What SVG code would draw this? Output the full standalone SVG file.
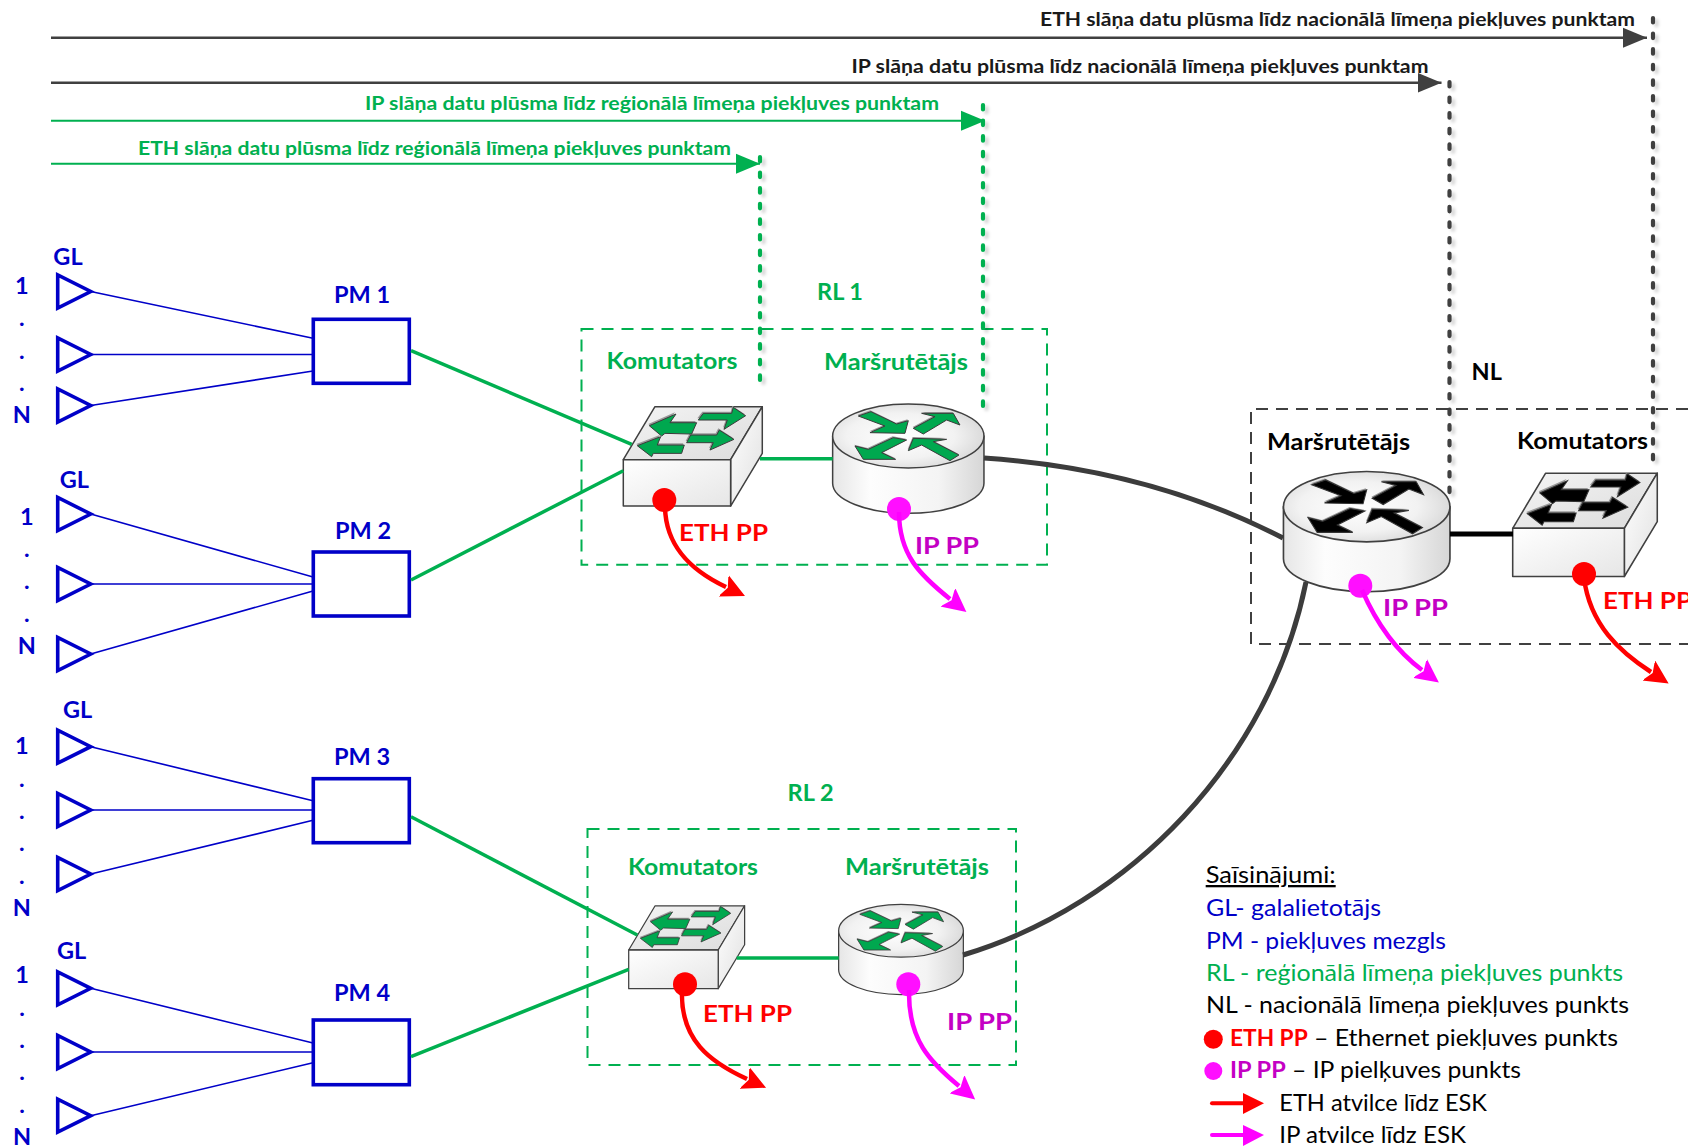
<svg xmlns="http://www.w3.org/2000/svg" xmlns:xlink="http://www.w3.org/1999/xlink" width="1688" height="1148" viewBox="0 0 1688 1148">
<style>
text{font-family:Lato,"Noto Sans","Liberation Sans",sans-serif}
.b{font-weight:700}
.lab{font-size:23.5px;font-weight:700}
.top{font-size:19.6px;font-weight:700}
.leg{font-size:23px}
.m{text-anchor:middle}
.blue{fill:#0000c8}.green{fill:#00b050}.red{fill:#ff0000}.pur{fill:#c400c4}.blk{fill:#000}.dark{fill:#1a1a1a}
.pm{fill:#fff;stroke:#0000c8;stroke-width:3.6}
.tri{fill:#fff;stroke:#0000c8;stroke-width:3.6;stroke-linejoin:miter}
.thin{fill:none;stroke:#0000c8;stroke-width:1.6}
.gl{fill:none;stroke:#00b050;stroke-width:3.5}
.gt{fill:none;stroke:#00b050;stroke-width:2}
.dt{fill:none;stroke:#404040;stroke-width:2.4}
.core{fill:none;stroke:#3c3c3c;stroke-width:5}
.dotG{fill:none;stroke:#00b050;stroke-width:4.2;stroke-linecap:round;stroke-dasharray:4.5 11.1;filter:url(#sh)}
.dotD{fill:none;stroke:#404040;stroke-width:4.2;stroke-linecap:round;stroke-dasharray:4.5 11.1;filter:url(#sh)}
.regG{fill:none;stroke:#00b050;stroke-width:2;stroke-dasharray:12 8}
.regD{fill:none;stroke:#404040;stroke-width:2;stroke-dasharray:12 8}
.rA{fill:none;stroke:#ff0000;stroke-width:4.5;marker-end:url(#hr)}
.mA{fill:none;stroke:#ff00ff;stroke-width:4.5;marker-end:url(#hm)}
.edge{stroke:#404040;stroke-width:4.5;stroke-linejoin:round}
</style>
<defs>
<filter id="sh" filterUnits="userSpaceOnUse" x="0" y="0" width="1688" height="1148"><feDropShadow dx="3.500" dy="3" stdDeviation="1.500" flood-color="#000" flood-opacity="0.16"/></filter>
<linearGradient id="gTop" x1="0" y1="0" x2="1" y2="1"><stop offset="0" stop-color="#f4f4f4"/><stop offset="1" stop-color="#dcdcdc"/></linearGradient>
<linearGradient id="gFront" x1="0" y1="0" x2="1" y2="1"><stop offset="0" stop-color="#ffffff"/><stop offset="1" stop-color="#e6e6e6"/></linearGradient>
<linearGradient id="gSide" x1="0" y1="0" x2="1" y2="1"><stop offset="0" stop-color="#ffffff"/><stop offset="1" stop-color="#e0e0e0"/></linearGradient>
<radialGradient id="gDisc" cx="0.45" cy="0.5" r="0.65"><stop offset="0" stop-color="#ffffff"/><stop offset="0.55" stop-color="#f2f2f2"/><stop offset="1" stop-color="#cfcfcf"/></radialGradient>
<linearGradient id="gBody" x1="0" y1="0" x2="1" y2="0"><stop offset="0" stop-color="#e6e6e6"/><stop offset="0.25" stop-color="#fdfdfd"/><stop offset="0.7" stop-color="#f4f4f4"/><stop offset="1" stop-color="#d6d6d6"/></linearGradient>
<marker id="hr" markerUnits="userSpaceOnUse" markerWidth="30" markerHeight="30" refX="2" refY="13" orient="auto"><path d="M-1,1 L23,13 L-1,25 L4,13 Z" fill="#ff0000"/></marker>
<marker id="hm" markerUnits="userSpaceOnUse" markerWidth="30" markerHeight="30" refX="2" refY="13" orient="auto"><path d="M-1,1 L23,13 L-1,25 L4,13 Z" fill="#ff00ff"/></marker>
<marker id="hd" markerUnits="userSpaceOnUse" markerWidth="30" markerHeight="24" refX="24" refY="11" orient="auto"><path d="M0,1 L24,11 L0,21 Z" fill="#404040"/></marker>
<marker id="hg" markerUnits="userSpaceOnUse" markerWidth="30" markerHeight="24" refX="24" refY="11" orient="auto"><path d="M0,1 L24,11 L0,21 Z" fill="#00b050"/></marker>
<g id="swArrows">
<polygon points="268,347 348,312 330,338 410,338 395,372 315,370 305,378"/>
<polygon points="415,330 430,310 515,310 520,292 557,317 492,358 502,330"/>
<polygon points="232,407 302,380 292,405 373,405 365,430 280,430 275,440"/>
<polygon points="380,398 392,375 470,375 478,360 522,388 450,420 460,398"/>
</g>
<g id="rtArrows">
<polygon points="895,318 933,305 1010,342 1045,332 1035,370 930,368 975,348"/>
<polygon points="1060,355 1125,320 1085,310 1180,310 1200,345 1160,330 1090,372"/>
<polygon points="1040,390 965,428 1007,448 910,448 885,408 925,418 1000,383"/>
<polygon points="1045,422 1060,385 1160,388 1120,395 1197,435 1170,452 1085,405"/>
</g>
<g id="swBody" class="edge">
<polygon points="190,449 285,290 607,290 512,449" fill="url(#gTop)"/>
<polygon points="512,449 607,290 607,430 512,588" fill="url(#gSide)"/>
<rect x="190" y="449" width="322" height="139" fill="url(#gFront)"/>
</g>
<g id="rtBody" class="edge">
<path d="M818,378 V520 A227,90 0 0 0 1272,520 V378 Z" fill="url(#gBody)"/>
<ellipse cx="1045" cy="378" rx="227" ry="96" fill="url(#gDisc)"/>
</g>
</defs>
<rect width="1688" height="1148" fill="#fff"/>

<g id="region-rl1"><rect class="regG" x="581.500" y="329" width="465.500" height="235.700"/><text class="lab m green" x="840" y="300">RL 1</text></g>
<g id="region-rl2"><rect class="regG" x="587.500" y="829" width="428.500" height="236"/><text class="lab m green" x="810.600" y="800.500">RL 2</text></g>
<g id="region-nl"><path class="regD" d="M1688,409 H1251 V644 H1688"/><text class="lab m blk" x="1486.700" y="379.500">NL</text></g>

<g id="group-pm1">
<text class="lab m blue" x="68" y="264.500">GL</text>
<text class="lab m blue" x="21.700" y="294">1</text>
<text class="lab m blue" x="21.700" y="326">.</text><text class="lab m blue" x="21.700" y="359">.</text><text class="lab m blue" x="21.700" y="391">.</text>
<text class="lab m blue" x="21.700" y="423">N</text>
</g>
<g id="gl-1-1"><polygon class="tri" points="57.700,275 57.700,308 90.700,291.500"/></g>
<g id="gl-1-2"><polygon class="tri" points="57.700,338 57.700,371 90.700,354.500"/></g>
<g id="gl-1-3"><polygon class="tri" points="57.700,389 57.700,422 90.700,405.500"/></g>
<g id="pm1"><rect class="pm" x="313.300" y="319.300" width="96" height="64"/><text class="lab m blue" x="362" y="303">PM 1</text></g>

<g id="group-pm2">
<text class="lab m blue" x="74.300" y="488">GL</text>
<text class="lab m blue" x="26.700" y="525">1</text>
<text class="lab m blue" x="26.700" y="557">.</text><text class="lab m blue" x="26.700" y="589">.</text><text class="lab m blue" x="26.700" y="622">.</text>
<text class="lab m blue" x="26.700" y="654">N</text>
</g>
<g id="gl-2-1"><polygon class="tri" points="57.700,497.500 57.700,530.500 90.700,514"/></g>
<g id="gl-2-2"><polygon class="tri" points="57.700,567.500 57.700,600.500 90.700,584"/></g>
<g id="gl-2-3"><polygon class="tri" points="57.700,637.500 57.700,670.500 90.700,654"/></g>
<g id="pm2"><rect class="pm" x="313.300" y="552" width="96" height="64"/><text class="lab m blue" x="363" y="539">PM 2</text></g>

<g id="group-pm3">
<text class="lab m blue" x="77.700" y="718">GL</text>
<text class="lab m blue" x="21.700" y="754">1</text>
<text class="lab m blue" x="21.700" y="787">.</text><text class="lab m blue" x="21.700" y="819">.</text><text class="lab m blue" x="21.700" y="851">.</text><text class="lab m blue" x="21.700" y="883.500">.</text>
<text class="lab m blue" x="21.700" y="916">N</text>
</g>
<g id="gl-3-1"><polygon class="tri" points="57.700,730.200 57.700,763.200 90.700,746.700"/></g>
<g id="gl-3-2"><polygon class="tri" points="57.700,793.500 57.700,826.500 90.700,810"/></g>
<g id="gl-3-3"><polygon class="tri" points="57.700,857.500 57.700,890.500 90.700,874"/></g>
<g id="pm3"><rect class="pm" x="313.300" y="778.700" width="96" height="64"/><text class="lab m blue" x="362" y="765">PM 3</text></g>

<g id="group-pm4">
<text class="lab m blue" x="71.700" y="959">GL</text>
<text class="lab m blue" x="22" y="983">1</text>
<text class="lab m blue" x="22" y="1015.500">.</text><text class="lab m blue" x="22" y="1047.500">.</text><text class="lab m blue" x="22" y="1079.500">.</text><text class="lab m blue" x="22" y="1112.500">.</text>
<text class="lab m blue" x="22" y="1145">N</text>
</g>
<g id="gl-4-1"><polygon class="tri" points="57.700,971.800 57.700,1004.800 90.700,988.300"/></g>
<g id="gl-4-2"><polygon class="tri" points="57.700,1035.500 57.700,1068.500 90.700,1052"/></g>
<g id="gl-4-3"><polygon class="tri" points="57.700,1099.200 57.700,1132.200 90.700,1115.700"/></g>
<g id="pm4"><rect class="pm" x="313.300" y="1020" width="96" height="64.700"/><text class="lab m blue" x="362" y="1001">PM 4</text></g>

<g id="switch-rl1">
<g transform="translate(623.300,459.700) scale(0.3333) translate(-190,-449)">
<use href="#swBody"/>
<use href="#swArrows" fill="#9a9a9a" transform="translate(-3,-5)"/>
<use href="#swArrows" fill="#00a84f" stroke="#3a3a3a" stroke-width="3"/>
</g>
<text class="lab green" x="606.500" y="369" textLength="131" lengthAdjust="spacingAndGlyphs">Komutators</text>
<circle cx="664.300" cy="500" r="12" fill="#ff0000"/>
<text class="lab red" x="679" y="540.700" textLength="89" lengthAdjust="spacingAndGlyphs">ETH PP</text>
</g>
<g id="router-rl1">
<g transform="translate(908.300,436) scale(0.3333) translate(-1045,-378)">
<use href="#rtBody"/>
<use href="#rtArrows" fill="#9a9a9a" transform="translate(-2,-4)"/>
<use href="#rtArrows" fill="#00a84f" stroke="#3a3a3a" stroke-width="3"/>
</g>
<text class="lab green" x="824" y="370" textLength="144" lengthAdjust="spacingAndGlyphs">Maršrutētājs</text>
<circle cx="899" cy="509" r="12" fill="#ff0fff"/>
<text class="lab pur" x="915" y="554" textLength="64" lengthAdjust="spacingAndGlyphs">IP PP</text>
</g>
<g id="switch-rl2">
<g transform="translate(628.700,950) scale(0.278) translate(-190,-449)">
<use href="#swBody"/>
<use href="#swArrows" fill="#9a9a9a" transform="translate(-3,-5)"/>
<use href="#swArrows" fill="#00a84f" stroke="#3a3a3a" stroke-width="3"/>
</g>
<text class="lab green" x="628" y="875" textLength="130" lengthAdjust="spacingAndGlyphs">Komutators</text>
<circle cx="685" cy="984.300" r="12" fill="#ff0000"/>
<text class="lab red" x="703" y="1022" textLength="89" lengthAdjust="spacingAndGlyphs">ETH PP</text>
</g>
<g id="router-rl2">
<g transform="translate(901,930.800) scale(0.2747) translate(-1045,-378)">
<use href="#rtBody"/>
<use href="#rtArrows" fill="#9a9a9a" transform="translate(-2,-4)"/>
<use href="#rtArrows" fill="#00a84f" stroke="#3a3a3a" stroke-width="3"/>
</g>
<text class="lab green" x="845" y="875" textLength="144" lengthAdjust="spacingAndGlyphs">Maršrutētājs</text>
<circle cx="908.300" cy="984.300" r="12" fill="#ff0fff"/>
<text class="lab pur" x="947" y="1029.500" textLength="65" lengthAdjust="spacingAndGlyphs">IP PP</text>
</g>
<g id="router-nl">
<g transform="translate(1366.700,506.700) scale(0.3667) translate(-1045,-378)">
<use href="#rtBody"/>
<use href="#rtArrows" fill="#9a9a9a" transform="translate(-2,-4)"/>
<use href="#rtArrows" fill="#000" stroke="#333" stroke-width="3"/>
</g>
<text class="lab blk" x="1267" y="449.500" textLength="143" lengthAdjust="spacingAndGlyphs">Maršrutētājs</text>
<circle cx="1360.300" cy="585.700" r="12" fill="#ff0fff"/>
<text class="lab pur" x="1383" y="615.500" textLength="65" lengthAdjust="spacingAndGlyphs">IP PP</text>
</g>
<g id="switch-nl">
<g transform="translate(1512.700,528.300) scale(0.3467) translate(-190,-449)">
<use href="#swBody"/>
<use href="#swArrows" fill="#9a9a9a" transform="translate(-3,-5)"/>
<use href="#swArrows" fill="#000" stroke="#333" stroke-width="3"/>
</g>
<text class="lab blk" x="1517" y="449" textLength="131" lengthAdjust="spacingAndGlyphs">Komutators</text>
<circle cx="1584" cy="574" r="12" fill="#ff0000"/>
<text class="lab red" x="1603" y="609" textLength="89" lengthAdjust="spacingAndGlyphs">ETH PP</text>
</g>

<g id="connectors">
<path class="dt" d="M51,37.700 H1647" style="marker-end:url(#hd)"/>
<path class="dt" d="M51,82.700 H1441.500" style="marker-end:url(#hd)"/>
<path class="gt" d="M51,120.700 H985" style="marker-end:url(#hg)"/>
<path class="gt" d="M51,163.700 H760" style="marker-end:url(#hg)"/>
<path class="dotD" d="M1653,18 V467"/>
<path class="dotD" d="M1449.500,82 V497"/>
<path class="dotG" d="M983,105 V416"/>
<path class="dotG" d="M760,157 V391"/>

<path class="thin" d="M90.700,291.500 L313,338.300 M90.700,354.500 H313 M90.700,405.500 L313,371"/>
<path class="thin" d="M90.700,514 L313,577 M90.700,584 H313 M90.700,654 L313,591"/>
<path class="thin" d="M90.700,746.700 L313,800.700 M90.700,810 H313 M90.700,874 L313,820.300"/>
<path class="thin" d="M90.700,988.300 L313,1043 M90.700,1052 H313 M90.700,1115.700 L313,1062.700"/>

<path class="gl" d="M411,350.700 L631.700,444.300"/>
<path class="gl" d="M411,580 L623.300,470.700"/>
<path class="gl" d="M411,816.700 L637.300,935"/>
<path class="gl" d="M411,1056.700 L628.700,969.300"/>
<path class="gl" d="M760,458.700 H832.700"/>
<path class="gl" d="M736.700,958 H838.700"/>
<path class="core" d="M984,458 C1090,465 1190,490 1283,538"/>
<path class="core" d="M1306,582 C1270,760 1130,905 963,955"/>
<path d="M1450,534 H1513" fill="none" stroke="#000" stroke-width="5"/>

<path class="rA" d="M665,503 C664,545 690,570 726,587"/>
<path class="mA" d="M899,512 C899,555 920,575 950,599"/>
<path class="rA" d="M682,990 C680,1040 710,1062 747,1079"/>
<path class="mA" d="M909,990 C908,1040 930,1062 959,1086"/>
<path class="mA" d="M1362,590 C1375,620 1395,650 1422,670"/>
<path class="rA" d="M1584,578 C1590,625 1620,652 1651,672"/>
</g>

<g id="flow-labels">
<text class="top dark" x="1040" y="26" textLength="595" lengthAdjust="spacingAndGlyphs">ETH slāņa datu plūsma līdz nacionālā līmeņa piekļuves punktam</text>
<text class="top dark" x="851.500" y="73" textLength="577" lengthAdjust="spacingAndGlyphs">IP slāņa datu plūsma līdz nacionālā līmeņa piekļuves punktam</text>
<text class="top green" x="365" y="110" textLength="574" lengthAdjust="spacingAndGlyphs">IP slāņa datu plūsma līdz reģionālā līmeņa piekļuves punktam</text>
<text class="top green" x="138" y="155" textLength="593" lengthAdjust="spacingAndGlyphs">ETH slāņa datu plūsma līdz reģionālā līmeņa piekļuves punktam</text>
</g>

<g id="legend">
<text class="leg blk" x="1205.700" y="883" text-decoration="underline" textLength="130" lengthAdjust="spacingAndGlyphs">Saīsinājumi:</text>
<text class="leg blue" x="1206" y="916" textLength="175" lengthAdjust="spacingAndGlyphs">GL- galalietotājs</text>
<text class="leg blue" x="1206" y="948.700" textLength="240" lengthAdjust="spacingAndGlyphs">PM - piekļuves mezgls</text>
<text class="leg green" x="1206" y="980.700" textLength="417" lengthAdjust="spacingAndGlyphs">RL - reģionālā līmeņa piekļuves punkts</text>
<text class="leg blk" x="1206" y="1013" textLength="423" lengthAdjust="spacingAndGlyphs">NL - nacionālā līmeņa piekļuves punkts</text>
<circle cx="1213.300" cy="1039.300" r="9.500" fill="#ff0000"/>
<text class="lab red" x="1230" y="1045.700" textLength="77.700" lengthAdjust="spacingAndGlyphs">ETH PP</text>
<text class="leg blk" x="1314" y="1045.700" textLength="304" lengthAdjust="spacingAndGlyphs">– Ethernet piekļuves punkts</text>
<circle cx="1213.300" cy="1071" r="9" fill="#ff0fff"/>
<text class="lab pur" x="1230" y="1078.300" textLength="55.700" lengthAdjust="spacingAndGlyphs">IP PP</text>
<text class="leg blk" x="1292" y="1078.300" textLength="229" lengthAdjust="spacingAndGlyphs">– IP pielķuves punkts</text>
<path d="M1212,1103.300 H1244" fill="none" stroke="#ff0000" stroke-width="4" stroke-linecap="round"/>
<polygon points="1243,1093 1264,1103.300 1243,1114" fill="#ff0000"/>
<text class="leg blk" x="1279.300" y="1111" textLength="207.700" lengthAdjust="spacingAndGlyphs">ETH atvilce līdz ESK</text>
<path d="M1212,1135 H1244" fill="none" stroke="#ff00ff" stroke-width="4" stroke-linecap="round"/>
<polygon points="1243,1125 1264,1135 1243,1146" fill="#ff00ff"/>
<text class="leg blk" x="1279.300" y="1142.700" textLength="186.700" lengthAdjust="spacingAndGlyphs">IP atvilce līdz ESK</text>
</g>
</svg>
